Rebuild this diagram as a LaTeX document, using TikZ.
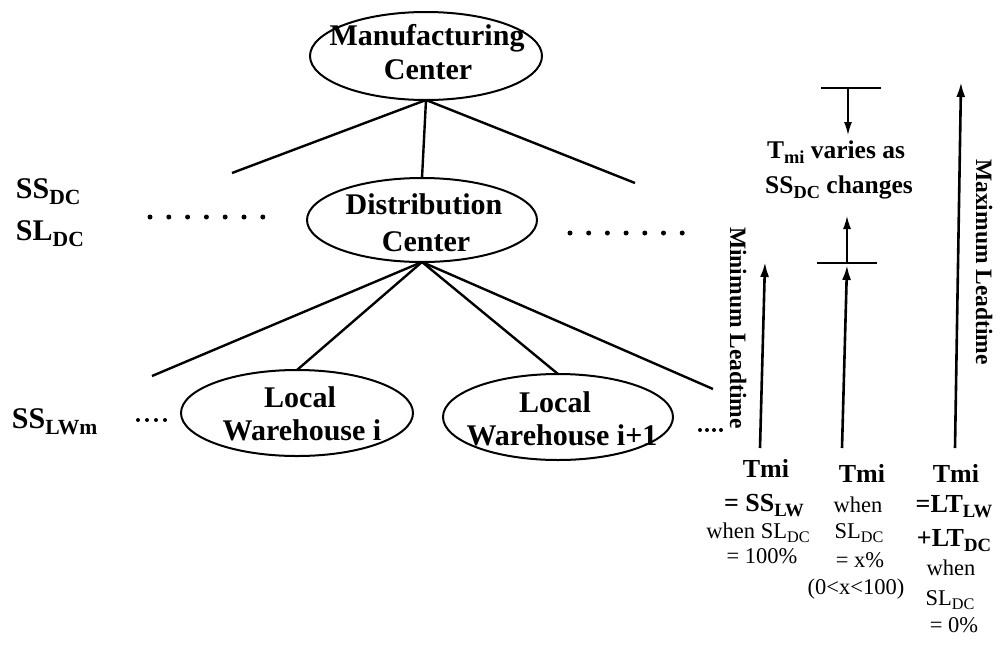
\documentclass[tikz,border=0pt]{standalone}
\usepackage{fontspec}
\usepackage{graphicx}
\setmainfont{Liberation Serif}
\usetikzlibrary{shapes.geometric,arrows.meta}
\newcommand\sbs[1]{\raisebox{-0.22em}{\scalebox{0.72}{#1}}}
\begin{document}
\begin{tikzpicture}[x=1pt,y=-1pt,
  every node/.style={inner sep=0pt, outer sep=0pt},
  ell/.style={draw, ellipse, line width=2pt},
  edgeline/.style={line width=2.4pt},
  bigtxt/.style={font=\fontsize{30}{33}\selectfont\bfseries, anchor=base},
  sidetxt/.style={font=\fontsize{30}{33}\selectfont\bfseries, anchor=base west},
  midtxt/.style={font=\fontsize{25.5}{28}\selectfont\bfseries, anchor=base},
  rottxt/.style={font=\fontsize{23.5}{26}\selectfont\bfseries, rotate=-90},
  colb/.style={font=\fontsize{26}{28}\selectfont\bfseries, anchor=base},
  colr/.style={font=\fontsize{22.5}{25}\selectfont, anchor=base},
  bigdot/.style={fill=black, circle, minimum size=5pt},
  smalldot/.style={fill=black, circle, minimum size=4pt},
  thickarrow/.style={line width=2.6pt, -{Latex[length=15pt,width=9pt]}},
  thinarrow/.style={line width=1.4pt, -{Latex[length=13pt,width=8pt]}},
  barline/.style={line width=2.6pt}]
\useasboundingbox (0,0) rectangle (1003,646);

% ellipses
\node[ell, minimum width=232pt, minimum height=88pt] (mc) at (426,56) {};
\node[ell, minimum width=230pt, minimum height=84pt] (dc) at (422,220) {};
\node[ell, minimum width=232pt, minimum height=86pt] (lw1) at (297,413) {};
\node[ell, minimum width=230pt, minimum height=86pt] (lw2) at (558,417) {};

% ellipse texts
\node[bigtxt] (mct1) at (427,45) {Manufacturing};
\node[bigtxt] (mct2) at (428,79) {Center};
\node[bigtxt] (dct1) at (424,214) {Distribution};
\node[bigtxt] (dct2) at (426,251) {Center};
\node[bigtxt] (lw1t1) at (300,407) {Local};
\node[bigtxt] (lw1t2) at (302,440) {Warehouse i};
\node[bigtxt] (lw2t1) at (555,412) {Local};
\node[bigtxt] (lw2t2) at (562,445) {Warehouse i+1};

% free ends
\coordinate (mcL) at (232,173);
\coordinate (mcR) at (635,183);
\coordinate (dcL) at (152,376);
\coordinate (dcR) at (713,389);

% tree edges
\draw[edgeline] (mc.south) -- (mcL);
\draw[edgeline] (mc.south) -- (dc.north);
\draw[edgeline] (mc.south) -- (mcR);
\draw[edgeline] (dc.south) -- (dcL);
\draw[edgeline] (dc.south) -- (lw1.north);
\draw[edgeline] (dc.south) -- (lw2.north);
\draw[edgeline] (dc.south) -- (dcR);

% dotted sequences
\foreach \i in {0,...,6} {
  \node[bigdot] (ldot\i) at (150+18.8*\i,217) {};
  \node[bigdot] (rdot\i) at (570+18.7*\i,233) {};
}
\foreach \i in {0,...,3} {
  \node[smalldot] (sdotl\i) at (138+9*\i,420) {};
  \node[smalldot] (sdotr\i) at (700+7*\i,430) {};
}

% left labels
\node[sidetxt] (ssdc) at (16,198) {SS\sbs{DC}};
\node[sidetxt] (sldc) at (16,240) {SL\sbs{DC}};
\node[sidetxt] (sslw) at (12,428) {SS\sbs{LWm}};

% rotated labels
\node[rottxt] (minlt) at (738,328) {Minimum Leadtime};
\node[rottxt] (maxlt) at (984,262) {Maximum Leadtime};

% middle text
\node[midtxt] (tv1) at (836,158) {T\sbs{mi} varies as};
\node[midtxt] (tv2) at (839,193) {SS\sbs{DC} changes};

% arrows and bars
\coordinate (a1s) at (760,448); \coordinate (a1e) at (765,262);
\coordinate (a2s) at (842,448); \coordinate (a2e) at (847,265);
\coordinate (b2l) at (817,263); \coordinate (b2r) at (877,263);
\coordinate (a2ts) at (847,263); \coordinate (a2te) at (847,216);
\coordinate (b1l) at (821,88); \coordinate (b1r) at (881,88);
\coordinate (a3s) at (848,88); \coordinate (a3e) at (848,135);
\coordinate (a4s) at (955,448); \coordinate (a4e) at (961,82);

\draw[thickarrow] (a1s) -- (a1e);
\draw[thickarrow] (a2s) -- (a2e);
\draw[barline] (b2l) -- (b2r);
\draw[thinarrow] (a2ts) -- (a2te);
\draw[barline] (b1l) -- (b1r);
\draw[thinarrow] (a3s) -- (a3e);
\draw[thickarrow] (a4s) -- (a4e);

% column 1
\node[colb] (c1a) at (766,477) {Tmi};
\node[colb] (c1b) at (764,511) {= SS\sbs{LW}};
\node[colr] (c1c) at (758,538) {when SL\sbs{DC}};
\node[colr] (c1d) at (762,563) {= 100\%};
% column 2
\node[colb] (c2a) at (862,482) {Tmi};
\node[colr] (c2b) at (858,512) {when};
\node[colr] (c2c) at (859,538) {SL\sbs{DC}};
\node[colr] (c2d) at (860,567) {= x\%};
\node[colr] (c2e) at (856,594) {(0<x<100)};
% column 3
\node[colb] (c3a) at (956,482) {Tmi};
\node[colb] (c3b) at (954,512) {=LT\sbs{LW}};
\node[colb] (c3c) at (954,546) {+LT\sbs{DC}};
\node[colr] (c3d) at (951,575) {when};
\node[colr] (c3e) at (950,605) {SL\sbs{DC}};
\node[colr] (c3f) at (954,632) {= 0\%};
\end{tikzpicture}
\end{document}
